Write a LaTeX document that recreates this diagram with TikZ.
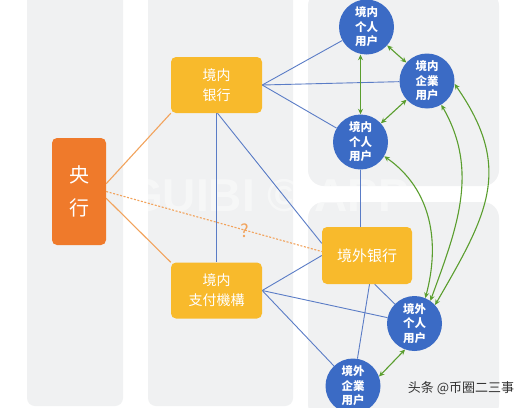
\documentclass[tikz,border=0pt]{standalone}
\usepackage{fontspec}
\newfontfamily\cjk{Noto Sans CJK SC}
\newfontfamily\wmfont{Liberation Sans}
\usetikzlibrary{arrows.meta,backgrounds}
\definecolor{panelgray}{HTML}{F0F1F2}
\definecolor{yangorange}{HTML}{EF7A2B}
\definecolor{boxyellow}{HTML}{F8BA2C}
\definecolor{userblue}{HTML}{3B6BC5}
\definecolor{linkblue}{HTML}{5A7CC6}
\definecolor{linkorange}{HTML}{F2A35C}
\definecolor{flowgreen}{HTML}{5A9E2E}

\begin{document}
\begin{tikzpicture}[x=1pt,y=1pt]
\tikzset{instbox/.style={fill=boxyellow,rounded corners=5pt,text=white,align=center,inner sep=0pt,
  minimum width=91pt,minimum height=56pt,font=\cjk\fontsize{14}{20}\selectfont}}
\tikzset{user/.style={circle,fill=userblue,text=white,align=center,inner sep=0pt,
  minimum size=55pt,font=\cjk\bfseries\fontsize{11.5}{14.5}\selectfont}}
\tikzset{blueline/.style={draw=linkblue,line width=0.9pt}}
\tikzset{orangeline/.style={draw=linkorange,line width=1.1pt}}
\tikzset{flow/.style={draw=flowgreen,line width=1.1pt,{Stealth[length=5.5pt,width=5pt]}-{Stealth[length=5.5pt,width=5pt]}}}
\useasboundingbox (0,0) rectangle (527,-407);
\clip (0,0) rectangle (527,-407);
% banks and payment
\node[instbox,fill=yangorange,minimum width=54pt,minimum height=107pt,font=\cjk\fontsize{20}{33}\selectfont] (yang) at (79,-191.5) {央\\行};
\node[instbox] (bank) at (216.5,-85) {境内\\银行};
\node[instbox] (pay) at (216.5,-290.5) {境内\\支付機構};
\node[instbox,minimum width=90pt,minimum height=57pt,font=\cjk\fontsize{15}{18}\selectfont] (obank) at (367,-255.5) {境外银行};
% users
\node[user] (ind1) at (366.5,-27) {境内\\个人\\用户};
\node[user] (corp) at (427,-81) {境内\\企業\\用户};
\node[user] (ind2) at (360.5,-142) {境内\\个人\\用户};
\node[user] (oind) at (414.5,-323.5) {境外\\个人\\用户};
\node[user] (ocorp) at (353,-386) {境外\\企業\\用户};
\node[text=linkorange,font=\cjk\fontsize{18}{18}\selectfont] (qmark) at (245,-231) {?};
\node[text=black!80,font=\cjk\fontsize{13}{13}\selectfont] (credit) at (461,-388) {头条 @币圈二三事};
\begin{scope}[on background layer]
\fill[white] (0,0) rectangle (527,-407);
\fill[panelgray,rounded corners=8pt] (27,10) rectangle (123,-406);
\fill[panelgray,rounded corners=8pt] (148,10) rectangle (293,-406);
\fill[panelgray,rounded corners=16pt] (308,10) rectangle (499,-186);
\fill[panelgray,rounded corners=16pt] (308,-202) rectangle (499,-420);
\node[text=white,opacity=0.45,font=\wmfont\bfseries\fontsize{46}{46}\selectfont] (guibi) at (268,-196) {GUIBI © APP};
\draw[orangeline] (yang.16) -- (bank.south west);
\draw[orangeline] (yang.-14) -- (pay.north west);
\draw[orangeline,dash pattern=on 2pt off 1.6pt] (yang.east) -- (obank.175);
\draw[blueline] (bank.east) -- (ind1);
\draw[blueline] (bank.east) -- (corp);
\draw[blueline] (bank.east) -- (ind2);
\draw[blueline] (bank.south) -- (pay.north);
\draw[blueline] (bank.-88) -- (obank.165);
\draw[blueline] (pay.east) -- (obank.west);
\draw[blueline] (pay.east) -- (oind);
\draw[blueline] (pay.east) -- (ocorp);
\draw[blueline] (ind2) -- (ind2 |- obank.north);
\draw[blueline] (obank.-75) -- (oind);
\draw[blueline] (obank.-85) -- (ocorp);
\draw[flow] (ind2 |- ind1.south) -- (ind2.north);
\draw[flow] (ind1) -- (corp);
\draw[flow] (corp) -- (ind2);
\draw[flow] (oind.-110) -- (ocorp.20);
\draw[flow] (ind2.-31) to[out=-35,in=75] (oind.67);
\draw[flow] (corp.-59) to[out=-60,in=70] (oind.55);
\draw[flow] (corp.-6) to[out=-55,in=60,looseness=1.2] (oind.42);
\end{scope}
\end{tikzpicture}
\end{document}
